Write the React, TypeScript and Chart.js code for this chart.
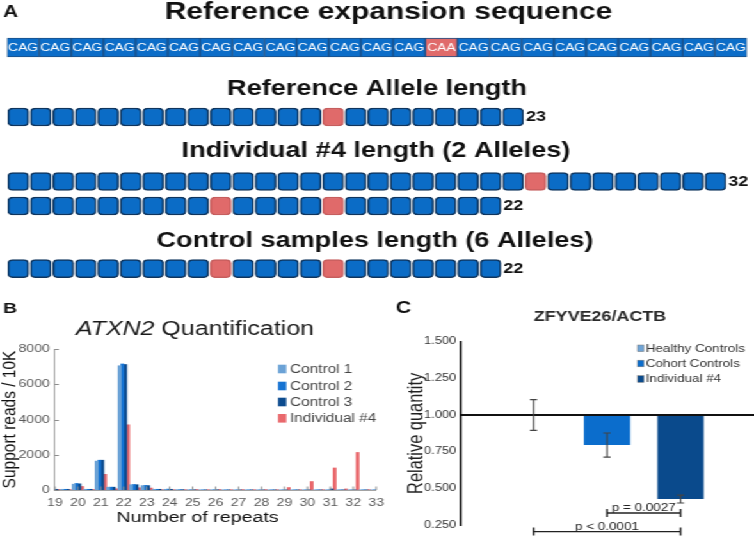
import React, { useEffect, useRef } from 'react';
import { Chart, registerables } from 'chart.js';

Chart.register(...registerables);

// ---------------- Panel A data ----------------
const seqCodons = ['CAG', 'CAG', 'CAG', 'CAG', 'CAG', 'CAG', 'CAG', 'CAG', 'CAG', 'CAG', 'CAG', 'CAG', 'CAG', 'CAA', 'CAG', 'CAG', 'CAG', 'CAG', 'CAG', 'CAG', 'CAG', 'CAG', 'CAG'];
const panelATitles = ['Reference expansion sequence', 'Reference Allele length', 'Individual #4 length (2 Alleles)', 'Control samples length (6 Alleles)'];
const alleleLengths = [23, 32, 22, 22];
const alleleInterruptions = [[14], [23], [9, 14], [9, 14]];

// ---------------- Panel B data ----------------
const repeatBins = [19, 19.5, 20, 20.5, 21, 21.5, 22, 22.5, 23, 23.5, 24, 24.5, 25, 25.5, 26, 26.5, 27, 27.5, 28, 28.5, 29, 29.5, 30, 30.5, 31, 31.5, 32, 32.5, 33];
const bSeriesNames = ['Control 1', 'Control 2', 'Control 3', 'Individual #4'];
const control1 = [40, 40, 330, 40, 1640, 160, 7050, 300, 250, 40, 40, 20, 15, 10, 15, 10, 10, 10, 10, 10, 10, 10, 10, 10, 10, 10, 10, 10, 10];
const control2 = [40, 40, 370, 40, 1690, 160, 7150, 310, 260, 40, 50, 20, 15, 10, 15, 10, 10, 10, 10, 10, 10, 10, 10, 10, 10, 10, 10, 10, 10];
const control3 = [40, 40, 350, 40, 1690, 160, 7120, 300, 250, 40, 40, 20, 15, 10, 15, 10, 10, 10, 10, 10, 10, 10, 10, 10, 60, 10, 10, 10, 10];
const individual4 = [30, 20, 200, 30, 890, 70, 3700, 130, 110, 20, 20, 20, 30, 20, 30, 20, 25, 20, 25, 20, 140, 20, 480, 20, 1250, 60, 2130, 20, 70];
const bYTicks = [0, 2000, 4000, 6000, 8000];

// ---------------- Panel C data ----------------
const qpcrGroups = ['Healthy Controls', 'Cohort Controls', 'Individual #4'];
const qpcrMeans = [1.0, 0.795, 0.427];
const qpcrErrors = [0.105, 0.082, 0.027];
const pTests = [
  { from: 1, to: 2, label: 'p = 0.0027' },
  { from: 0, to: 2, label: 'p < 0.0001' },
];

// ---------------- layout / style ----------------
const S = 754 / 589; // horizontal stretch of the original figure
const FONT = "'Liberation Sans', Arial, Helvetica, sans-serif";
Chart.defaults.font.family = FONT;

const A_BLUE = '#0b6cc6';
const A_SEQ_BLUE = '#0c6dc8';
const A_PINK = '#e06a6a';
const A_SEQ_Y = 47.5;
const A_ROW_Y = [117, 181.5, 206, 268.7];
const A_TITLE_X = [388.5 / S, 377 / S, 376 / S, 375 / S];
const A_TITLE_BASE = [19, 95, 157, 246.5];

const B_COLORS = ['#6ba2d6', '#1472d2', '#0c4b8e', '#e9686c'];
const C_COLORS = ['#6fa4d6', '#0b6dcc', '#0a4a8c'];
const P_BRACKET_Y = [0.332, 0.205];

const panelAPlugin = {
  id: 'panelA',
  afterDatasetsDraw(chart: any) {
    const ctx = chart.ctx;
    ctx.save();
    ctx.fillStyle = '#111';
    ctx.textBaseline = 'alphabetic';
    ctx.textAlign = 'left';
    ctx.font = `bold 16px ${FONT}`;
    ctx.fillText('A', 2.4, 16.8);
    panelATitles.forEach((t, i) => {
      ctx.font = `bold ${i === 0 ? 23.4 : 21.2}px ${FONT}`;
      ctx.textAlign = 'center';
      ctx.fillText(t, A_TITLE_X[i], A_TITLE_BASE[i]);
    });
    // codon labels
    const seqMeta = chart.getDatasetMeta(0);
    ctx.font = `10.8px ${FONT}`;
    ctx.fillStyle = '#ffffff';
    ctx.textAlign = 'center';
    ctx.textBaseline = 'middle';
    seqMeta.data.forEach((el: any, i: number) => {
      const p = el.getProps(['x', 'base', 'y'], true);
      ctx.fillText(seqCodons[i], (p.x + p.base) / 2, p.y + 0.5);
    });
    // length labels
    const alMeta = chart.getDatasetMeta(1);
    ctx.font = `bold 14px ${FONT}`;
    ctx.fillStyle = '#111';
    ctx.textAlign = 'left';
    let k = 0;
    alleleLengths.forEach((len) => {
      k += len;
      const el = alMeta.data[k - 1];
      const p = el.getProps(['x', 'base', 'y'], true);
      ctx.fillText(String(len), Math.max(p.x, p.base) + 2, p.y + 0.5);
    });
    ctx.restore();
  },
};

const panelBPlugin = {
  id: 'panelB',
  afterDraw(chart: any) {
    const { ctx, chartArea, scales } = chart;
    const x = scales.x;
    const y = scales.y;
    ctx.save();
    // inward tick marks
    ctx.strokeStyle = '#8c8c8c';
    ctx.lineWidth = 1;
    ctx.beginPath();
    bYTicks.forEach((v) => {
      const py = Math.round(y.getPixelForValue(v)) + 0.5;
      ctx.moveTo(chartArea.left, py);
      ctx.lineTo(chartArea.left + 3, py);
    });
    repeatBins.forEach((b, i) => {
      if (Number.isInteger(b)) {
        const px = x.getPixelForValue(i);
        ctx.moveTo(px, chartArea.bottom);
        ctx.lineTo(px, chartArea.bottom - 3.5);
      }
    });
    ctx.stroke();
    // panel letter
    ctx.fillStyle = '#111';
    ctx.textBaseline = 'alphabetic';
    ctx.textAlign = 'left';
    ctx.font = `bold 15px ${FONT}`;
    ctx.fillText('B', 2.4, 23.2);
    // title with italic gene name
    ctx.textBaseline = 'middle';
    const fItal = `italic 19.5px ${FONT}`;
    const fReg = `19.5px ${FONT}`;
    ctx.font = fItal;
    const w1 = ctx.measureText('ATXN2').width;
    ctx.font = fReg;
    const w2 = ctx.measureText(' Quantification').width;
    const cx = 195 / S;
    const sx = cx - (w1 + w2) / 2;
    ctx.fillStyle = '#1a1a1a';
    ctx.font = fItal;
    ctx.fillText('ATXN2', sx, 39.5);
    ctx.font = fReg;
    ctx.fillText(' Quantification', sx + w1, 39.5);
    // x title
    ctx.textAlign = 'center';
    ctx.font = `15.3px ${FONT}`;
    ctx.fillStyle = '#111';
    ctx.fillText('Number of repeats', 197.5 / S, 227.3);
    // legend
    ctx.textAlign = 'left';
    ctx.font = `12px ${FONT}`;
    const rows = [79, 96, 112, 128.3];
    bSeriesNames.forEach((n, i) => {
      ctx.fillStyle = B_COLORS[i];
      ctx.fillRect(278 / S, rows[i] - 4.3, 6.5, 8.6);
      ctx.fillStyle = '#444';
      ctx.fillText(n, 290 / S, rows[i] + 0.5);
    });
    ctx.restore();
  },
};

const panelCPlugin = {
  id: 'panelC',
  afterDatasetsDraw(chart: any) {
    const { ctx, chartArea, scales } = chart;
    const x = scales.x;
    const y = scales.y;
    ctx.save();
    // reference line at 1.0
    const y1 = y.getPixelForValue(1);
    ctx.strokeStyle = '#111';
    ctx.lineWidth = 2;
    ctx.beginPath();
    ctx.moveTo(chartArea.left, y1);
    ctx.lineTo(chartArea.right, y1);
    ctx.stroke();
    // error bars
    ctx.strokeStyle = '#444';
    ctx.lineWidth = 1.1;
    qpcrMeans.forEach((m, i) => {
      const px = x.getPixelForValue(i + 1);
      const top = y.getPixelForValue(m + qpcrErrors[i]);
      const bot = y.getPixelForValue(m - qpcrErrors[i]);
      ctx.beginPath();
      ctx.moveTo(px, top);
      ctx.lineTo(px, bot);
      ctx.moveTo(px - 2.8, top);
      ctx.lineTo(px + 2.8, top);
      ctx.moveTo(px - 2.8, bot);
      ctx.lineTo(px + 2.8, bot);
      ctx.stroke();
    });
    // significance brackets
    ctx.strokeStyle = '#222';
    ctx.lineWidth = 1.4;
    ctx.fillStyle = '#222';
    ctx.font = `10.5px ${FONT}`;
    ctx.textAlign = 'center';
    ctx.textBaseline = 'alphabetic';
    pTests.forEach((t, i) => {
      const xa = x.getPixelForValue(t.from + 1);
      const xb = x.getPixelForValue(t.to + 1);
      const by = y.getPixelForValue(P_BRACKET_Y[i]);
      ctx.beginPath();
      ctx.moveTo(xa, by);
      ctx.lineTo(xb, by);
      ctx.moveTo(xa, by - 4);
      ctx.lineTo(xa, by + 4);
      ctx.moveTo(xb, by - 4);
      ctx.lineTo(xb, by + 4);
      ctx.stroke();
      ctx.fillText(t.label, (xa + xb) / 2, by - 2);
    });
    // panel letter and title
    ctx.textAlign = 'left';
    ctx.fillStyle = '#111';
    ctx.font = `bold 16.5px ${FONT}`;
    ctx.fillText('C', 396 / S - 306, 23.3);
    ctx.textAlign = 'center';
    ctx.textBaseline = 'middle';
    ctx.fillStyle = '#2a2a2a';
    ctx.font = `bold 14px ${FONT}`;
    ctx.fillText('ZFYVE26/ACTB', 600 / S - 306, 27.3);
    // legend
    ctx.textAlign = 'left';
    ctx.font = `10.5px ${FONT}`;
    const rows = [58.3, 73.5, 89];
    qpcrGroups.forEach((g, i) => {
      const lx = 637.5 / S - 306;
      ctx.fillStyle = C_COLORS[i];
      ctx.fillRect(lx, rows[i] - 3.3, 5, 6.6);
      ctx.strokeStyle = '#777';
      ctx.lineWidth = 0.5;
      ctx.strokeRect(lx, rows[i] - 3.3, 5, 6.6);
      ctx.fillStyle = '#333';
      ctx.fillText(g, 645.7 / S - 306, rows[i] + 0.5);
    });
    ctx.restore();
  },
};

function makePanelA(): any {
  const seqData = seqCodons.map((_c, i) => ({ x: [i, i + 1], y: A_SEQ_Y }));
  const alleleData: any[] = [];
  alleleLengths.forEach((len, r) => {
    for (let i = 0; i < len; i++) {
      alleleData.push({ x: [i + 0.04, i + 0.96], y: A_ROW_Y[r], caa: alleleInterruptions[r].includes(i) });
    }
  });
  return {
    type: 'bar',
    data: {
      datasets: [
        {
          label: 'Reference expansion sequence',
          data: seqData,
          xAxisID: 'x2',
          yAxisID: 'y',
          backgroundColor: (c: any) => (seqCodons[c.dataIndex] === 'CAA' ? A_PINK : A_SEQ_BLUE),
          borderColor: '#1b4f86',
          borderWidth: 1,
          borderSkipped: false,
          barThickness: 19,
          grouped: false,
        },
        {
          label: 'Alleles',
          data: alleleData,
          xAxisID: 'x',
          yAxisID: 'y',
          backgroundColor: (c: any) => (c.raw && c.raw.caa ? A_PINK : A_BLUE),
          borderColor: (c: any) => (c.raw && c.raw.caa ? '#c65e5e' : '#0f355e'),
          borderWidth: 1.5,
          borderRadius: 4,
          borderSkipped: false,
          barThickness: 18,
          grouped: false,
        },
      ],
    },
    options: {
      indexAxis: 'y',
      responsive: false,
      animation: false,
      devicePixelRatio: 1,
      events: [],
      layout: { padding: { left: 7 / S, right: 589 - 747 / S, top: 0, bottom: 0 } },
      plugins: { legend: { display: false }, tooltip: { enabled: false } },
      scales: {
        x: { type: 'linear', display: false, min: 0, max: 32.9, offset: false },
        x2: { type: 'linear', axis: 'x', display: false, min: 0, max: 23, offset: false },
        y: { type: 'linear', display: false, min: 0, max: 290, reverse: true, offset: false },
      },
    },
    plugins: [panelAPlugin],
  };
}

function makePanelB(): any {
  const series = [control1, control2, control3, individual4];
  return {
    type: 'bar',
    data: {
      labels: repeatBins.map(String),
      datasets: series.map((d, i) => ({
        label: bSeriesNames[i],
        data: d,
        backgroundColor: B_COLORS[i],
        borderWidth: 0,
        categoryPercentage: 1,
        barPercentage: 1,
      })),
    },
    options: {
      responsive: false,
      animation: false,
      devicePixelRatio: 1,
      events: [],
      layout: { padding: { left: 0, right: 306 - 381 / S, top: 349 - 290, bottom: 0 } },
      plugins: { legend: { display: false }, tooltip: { enabled: false } },
      scales: {
        x: {
          type: 'category',
          offset: false,
          grid: { display: false, drawTicks: false },
          border: { display: true, color: '#a3a3a3', width: 1 },
          ticks: {
            autoSkip: false,
            maxRotation: 0,
            minRotation: 0,
            color: '#5a5a5a',
            font: { family: FONT, size: 11 },
            padding: 6,
            callback: (_v: any, i: number) => (Number.isInteger(repeatBins[i]) ? String(repeatBins[i]) : ''),
          },
          afterFit: (s: any) => {
            s.height = 537 - 490;
          },
        },
        y: {
          type: 'linear',
          min: 0,
          max: 8000,
          grid: { display: false, drawTicks: false },
          border: { display: true, color: '#a3a3a3', width: 1 },
          ticks: {
            stepSize: 2000,
            color: '#5a5a5a',
            font: { family: FONT, size: 11 },
            padding: 4,
            callback: (v: any) => String(v),
          },
          title: {
            display: true,
            text: 'Support reads / 10K',
            color: '#111',
            font: { family: FONT, size: 15.5, lineHeight: 1.05 },
            padding: 0,
          },
          afterFit: (s: any) => {
            s.width = 55 / S;
          },
        },
      },
    },
    plugins: [panelBPlugin],
  };
}

function makePanelC(): any {
  const labels = ['', ...qpcrGroups, ''];
  return {
    type: 'bar',
    data: {
      labels,
      datasets: qpcrGroups.map((g, gi) => ({
        label: g,
        data: labels.map((_l, li) => (li === gi + 1 ? [1, qpcrMeans[gi]] : null)),
        backgroundColor: C_COLORS[gi],
        borderWidth: 0,
        grouped: false,
        categoryPercentage: 0.63,
        barPercentage: 1,
      })),
    },
    options: {
      responsive: false,
      animation: false,
      devicePixelRatio: 1,
      events: [],
      layout: { padding: { left: 0, right: 283 - 739 / S, top: 341.7 - 290, bottom: 247 - (525 - 290) } },
      plugins: { legend: { display: false }, tooltip: { enabled: false } },
      scales: {
        x: { type: 'category', display: false, offset: false },
        y: {
          type: 'linear',
          min: 0.25,
          max: 1.5,
          grid: { display: false, drawTicks: false },
          border: { display: true, color: '#111', width: 1.6 },
          ticks: {
            stepSize: 0.25,
            color: '#333',
            font: { family: FONT, size: 10 },
            padding: 3,
            callback: (v: any) => Number(v).toFixed(3),
          },
          title: {
            display: true,
            text: 'Relative quantity',
            color: '#222',
            font: { family: FONT, size: 16.4 },
            padding: { top: 9.2, bottom: 0 },
          },
          afterFit: (s: any) => {
            s.width = 460 / S - 306;
          },
        },
      },
    },
    plugins: [panelCPlugin],
  };
}

function ChartCanvas({ make, left, top, width, height }: { make: () => any; left: number; top: number; width: number; height: number }) {
  const ref = useRef<HTMLCanvasElement | null>(null);
  useEffect(() => {
    if (!ref.current) return;
    const chart = new Chart(ref.current, make());
    return () => chart.destroy();
  }, [make]);
  return (
    <canvas
      ref={ref}
      width={width}
      height={height}
      style={{ position: 'absolute', left, top, width: `${width}px`, height: `${height}px` }}
    />
  );
}

export default function App() {
  return (
    <div style={{ position: 'absolute', left: 0, top: 0, width: 754, height: 537, overflow: 'hidden', background: '#ffffff' }}>
      <div
        style={{
          position: 'absolute',
          left: 0,
          top: 0,
          width: 589,
          height: 537,
          transform: `scaleX(${S})`,
          transformOrigin: '0 0',
        }}
      >
        <ChartCanvas make={makePanelA} left={0} top={0} width={589} height={290} />
        <ChartCanvas make={makePanelB} left={0} top={290} width={306} height={247} />
        <ChartCanvas make={makePanelC} left={306} top={290} width={283} height={247} />
      </div>
    </div>
  );
}
